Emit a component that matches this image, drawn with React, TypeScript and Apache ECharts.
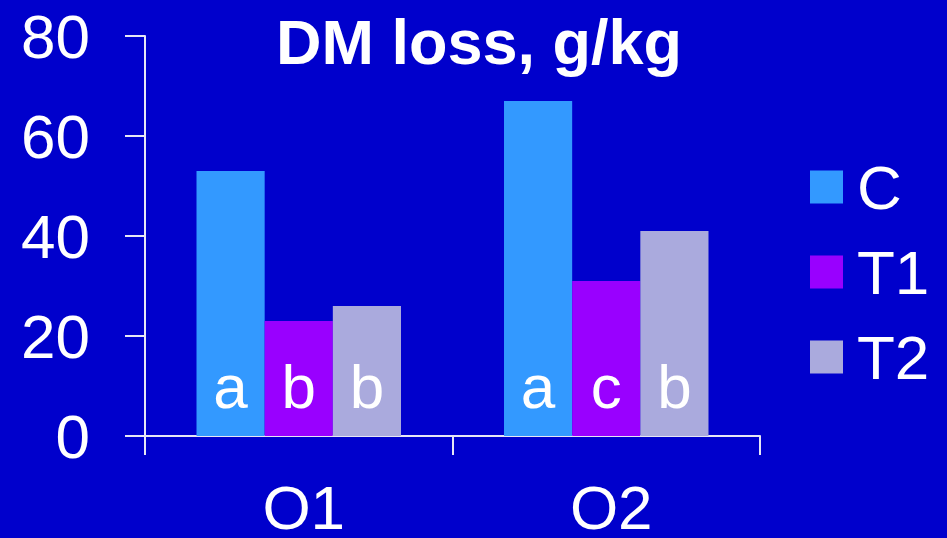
import React, { useEffect, useRef } from "react";
import * as echarts from "echarts";

const categories = ["O1", "O2"];
const seriesNames = ["C", "T1", "T2"];
const valuesC = [53, 67];
const valuesT1 = [23, 31];
const valuesT2 = [26, 41];
const lettersC = ["a", "a"];
const lettersT1 = ["b", "c"];
const lettersT2 = ["b", "b"];
const yTicks = [0, 20, 40, 60, 80];

const colors = ["#3399FF", "#9900FF", "#AAAADD"];
const FONT = "'Liberation Sans', Arial, sans-serif";
const LINE = "#E6E6F5";

export default function App() {
  const ref = useRef<HTMLDivElement>(null);

  useEffect(() => {
    if (!ref.current) return;
    const chart = echarts.init(ref.current, undefined, { renderer: "svg" });

    const mkSeries = (name: string, values: number[], letters: string[], color: string) => ({
      name,
      type: "bar",
      data: values,
      barGap: "0%",
      barCategoryGap: "33.5%",
      itemStyle: { color },
      label: {
        show: true,
        position: "insideBottom",
        distance: 19,
        color: "#FFFFFF",
        fontFamily: FONT,
        fontSize: 62,
        formatter: (p: any) => letters[p.dataIndex],
      },
    });

    chart.setOption({
      animation: false,
      backgroundColor: "#0000CC",
      title: {
        text: "DM loss, g/kg",
        left: 271,
        top: 5,
        textStyle: { color: "#FFFFFF", fontFamily: FONT, fontWeight: "bold", fontSize: 63 },
      },
      legend: {
        orient: "vertical",
        left: 810,
        top: 156,
        padding: 0,
        icon: "rect",
        itemWidth: 33,
        itemHeight: 33,
        itemGap: 23,
        textStyle: { color: "#FFFFFF", fontFamily: FONT, fontSize: 62, padding: [0, 0, 0, 9] },
        data: seriesNames,
      },
      grid: { left: 145, right: 187, top: 36, bottom: 102 },
      xAxis: {
        type: "category",
        data: categories,
        axisLine: { lineStyle: { color: LINE, width: 2 } },
        axisTick: { show: true, length: 19, lineStyle: { color: LINE, width: 2 } },
        axisLabel: {
          color: "#FFFFFF",
          fontFamily: FONT,
          fontSize: 62,
          lineHeight: 48,
          margin: 47,
          padding: [0, 0, 0, 10],
        },
      },
      yAxis: {
        type: "value",
        min: yTicks[0],
        max: yTicks[yTicks.length - 1],
        interval: 20,
        splitLine: { show: false },
        axisLine: { show: true, lineStyle: { color: LINE, width: 2 } },
        axisTick: { show: true, length: 20, lineStyle: { color: LINE, width: 2 } },
        axisLabel: { color: "#FFFFFF", fontFamily: FONT, fontSize: 62, margin: 55 },
      },
      series: [
        mkSeries(seriesNames[0], valuesC, lettersC, colors[0]),
        mkSeries(seriesNames[1], valuesT1, lettersT1, colors[1]),
        mkSeries(seriesNames[2], valuesT2, lettersT2, colors[2]),
      ],
    });

    return () => chart.dispose();
  }, []);

  return <div ref={ref} style={{ width: 947, height: 538, position: "absolute", left: 0, top: 0 }} />;
}
